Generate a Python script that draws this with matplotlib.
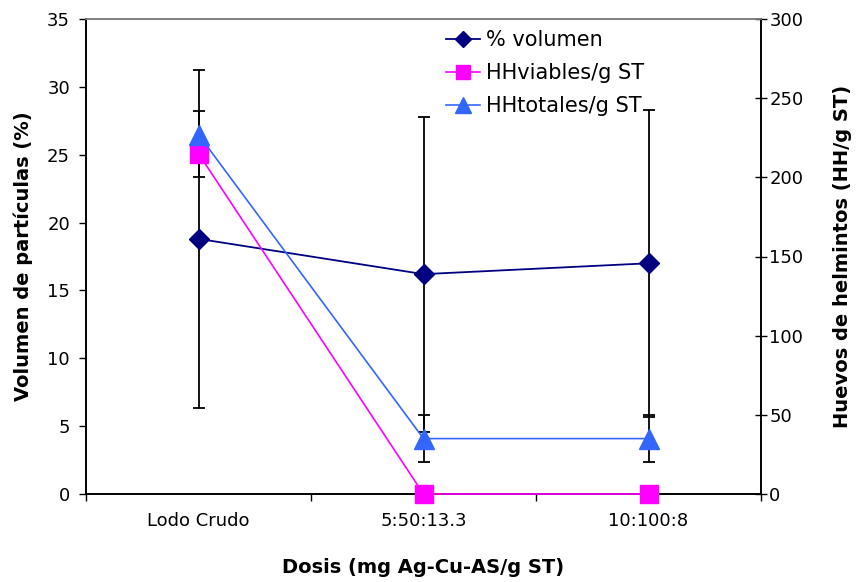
import matplotlib
matplotlib.use("Agg")
import matplotlib.pyplot as plt
import numpy as np

# Data
dosis = ["Lodo Crudo", "5:50:13.3", "10:100:8"]
volumen_pct = [18.8, 16.2, 17.0]
volumen_err = [12.45, 11.6, 11.3]
hh_viables = [215, 0, 0]
hh_viables_err_low = [15, 0, 0]
hh_viables_err_high = [0, 0, 0]
hh_totales = [227, 35, 35]
hh_totales_err = [15, 15, 15]

left_ticks = [0, 5, 10, 15, 20, 25, 30, 35]
right_ticks = [0, 50, 100, 150, 200, 250, 300]

plt.rcParams["font.family"] = "DejaVu Sans"

W, H = 859, 582
fig = plt.figure(figsize=(W / 100, H / 100), dpi=100)
x0, x1, y0, y1 = 86, 761, 19, 494
ax = fig.add_axes([x0 / W, 1 - y1 / H, (x1 - x0) / W, (y1 - y0) / H])
ax2 = ax.twinx()

x = np.arange(len(dosis))

err_kw = dict(fmt="none", ecolor="black", elinewidth=1.3, capsize=4.5,
              capthick=1.3, zorder=2)

# error bars sit beneath the markers
ax.errorbar(x, volumen_pct, yerr=volumen_err, **err_kw)
via_low = np.array(hh_viables_err_low)
via_high = np.array(hh_viables_err_high)
has_err = (via_low + via_high) > 0
ax2.errorbar(x[has_err], np.array(hh_viables)[has_err],
             yerr=[via_low[has_err], via_high[has_err]], **err_kw)
ax2.errorbar(x, hh_totales, yerr=hh_totales_err, **err_kw)

l_vol, = ax.plot(x, volumen_pct, color="#000080", marker="D", markersize=10.2,
                 linewidth=1.3, markeredgecolor="#000080", zorder=3, clip_on=False)
l_via, = ax2.plot(x, hh_viables, color="#FF00FF", marker="s", markersize=13,
                  linewidth=1.2, markeredgecolor="#FF00FF", zorder=3, clip_on=False)
l_tot, = ax2.plot(x, hh_totales, color="#3366FF", marker="^", markersize=14.5,
                  linewidth=1.2, markeredgecolor="#3366FF", zorder=4, clip_on=False)

ax.set_xlim(-0.5, len(dosis) - 0.5)
ax.set_ylim(0, 35)
ax2.set_ylim(0, 300)

ax.set_yticks(left_ticks)
ax2.set_yticks(right_ticks)

# category boundaries as major ticks, labels at category centres
ax.set_xticks(np.arange(len(dosis) + 1) - 0.5)
ax.set_xticklabels([])
ax.set_xticks(x, minor=True)
ax.set_xticklabels(dosis, minor=True)
ax.tick_params(axis="x", which="major", direction="out", length=5, width=1)
ax.tick_params(axis="x", which="minor", length=0, pad=13, labelsize=13)
ax.tick_params(axis="y", direction="out", length=5, width=1, labelsize=13, pad=6.5)
ax2.tick_params(axis="y", direction="inout", length=9, width=1, labelsize=13, pad=1.5)

for a in (ax, ax2):
    for s in ("left", "right", "bottom"):
        a.spines[s].set_color("black")
        a.spines[s].set_linewidth(1.2)
    a.spines["top"].set_color("#808080")
    a.spines["top"].set_linewidth(1.2)

ax.set_ylabel("Volumen de partículas (%)", fontsize=14, fontweight="bold", labelpad=10)
ax2.set_ylabel("Huevos de helmintos (HH/g ST)", fontsize=14, fontweight="bold",
               labelpad=21, rotation=90)
ax.set_xlabel("Dosis (mg Ag-Cu-AS/g ST)", fontsize=14, fontweight="bold", labelpad=20)

handles = [l_vol, l_via, l_tot]
labels = ["% volumen", "HHviables/g ST", "HHtotales/g ST"]
leg = ax2.legend(handles, labels, loc="upper left",
                 bbox_to_anchor=(446 / W, 1 - 30 / H), bbox_transform=fig.transFigure,
                 frameon=False, fontsize=15, handlelength=1.65, handletextpad=0.25,
                 labelspacing=0.62, borderpad=0, borderaxespad=0, markerscale=0.75)

fig.savefig("out.png", dpi=100)
